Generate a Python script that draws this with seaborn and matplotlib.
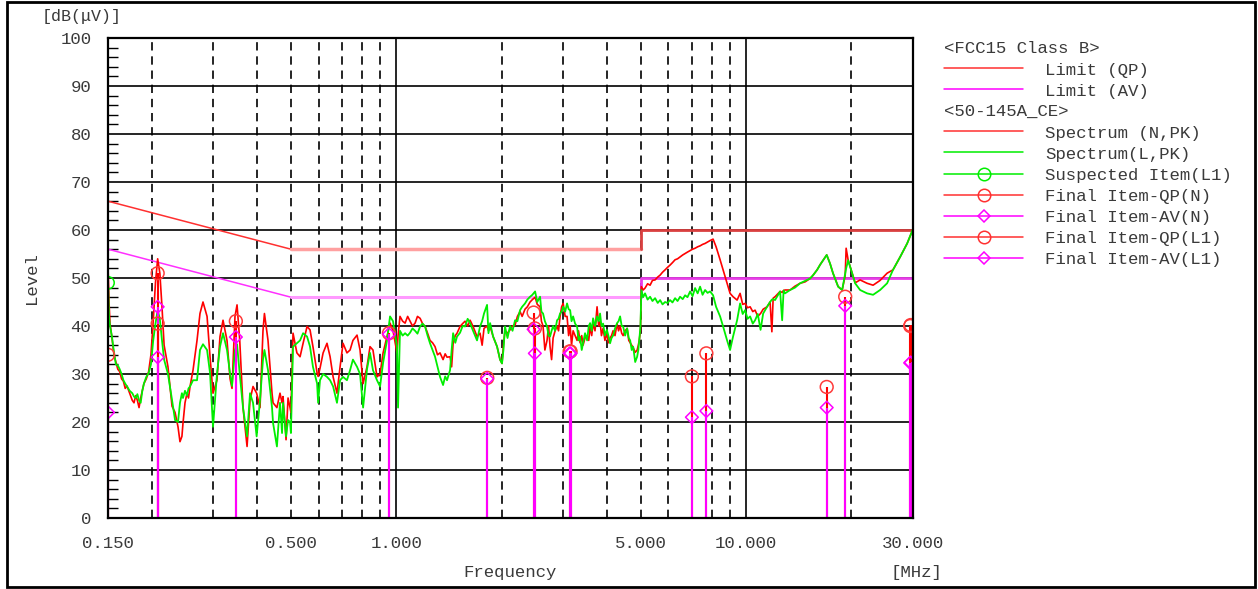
import matplotlib
matplotlib.use("Agg")
import matplotlib.pyplot as plt
from matplotlib.lines import Line2D
from matplotlib.patches import Rectangle
from matplotlib.ticker import FixedLocator, MultipleLocator, NullLocator
import pandas as pd
import seaborn as sns

# ---------------- data ----------------
limit_freq = [0.15, 0.5, 5.0, 5.0, 30.0]
limit_qp = [66, 56, 56, 60, 60]
limit_av = [56, 46, 46, 50, 50]

# spectrum sweep (MHz) with N (red) and L (green) peak levels, dB(uV)
spec_freq = [
    0.150, 0.151, 0.152, 0.154, 0.156, 0.158, 0.160, 0.162, 0.164, 0.166,
    0.168, 0.170, 0.173, 0.176, 0.178, 0.180, 0.182, 0.184, 0.186, 0.188,
    0.190, 0.193, 0.196, 0.199, 0.202, 0.205, 0.208, 0.211, 0.214, 0.217,
    0.2226, 0.2286, 0.2332, 0.2378, 0.2409, 0.244, 0.2457, 0.249, 0.2523, 0.2548,
    0.2574, 0.2625, 0.2695, 0.2748, 0.2803, 0.2879, 0.2936, 0.2994, 0.3073, 0.3135,
    0.3198, 0.3283, 0.335, 0.3393, 0.346, 0.3507, 0.357, 0.3648, 0.3746, 0.382,
    0.3896, 0.399, 0.408, 0.416, 0.420, 0.430, 0.4415, 0.4445, 0.456, 0.4653,
    0.4716, 0.4747, 0.4842, 0.4906, 0.4971, 0.500,
    0.507, 0.520, 0.531, 0.5417, 0.556, 0.567, 0.578, 0.594, 0.598, 0.6055,
    0.618, 0.634, 0.647, 0.660, 0.677, 0.691, 0.7045, 0.723, 0.738, 0.752,
    0.7725, 0.788, 0.804, 0.825, 0.8415, 0.858, 0.881, 0.899, 0.917, 0.941,
    0.960, 0.979, 1.005, 1.012, 1.025, 1.043,
    1.060, 1.078, 1.095, 1.113, 1.132, 1.150, 1.170, 1.189, 1.209, 1.229,
    1.249, 1.270, 1.291, 1.312, 1.334, 1.361, 1.380, 1.397, 1.425, 1.440,
    1.454, 1.475, 1.492, 1.522, 1.548, 1.573, 1.600, 1.626, 1.658, 1.702,
    1.736, 1.760, 1.782, 1.818, 1.835, 1.855, 1.892, 1.942, 1.980, 2.006,
    2.025, 2.046, 2.080, 2.115, 2.150, 2.186, 2.220, 2.259, 2.290, 2.334,
    2.370, 2.413, 2.450, 2.494, 2.530, 2.577, 2.600, 2.628, 2.660, 2.698,
    2.725, 2.752, 2.780, 2.808, 2.845, 2.882, 2.910, 2.940, 2.970, 3.000,
    3.040, 3.078, 3.110, 3.141, 3.170, 3.203, 3.245, 3.288, 3.320, 3.354,
    3.390, 3.420, 3.465, 3.512, 3.550, 3.582, 3.620, 3.653, 3.700, 3.750,
    3.790, 3.825, 3.860, 3.902, 3.950, 4.000, 4.040, 4.085, 4.125, 4.167,
    4.220, 4.278, 4.320, 4.364, 4.410, 4.452, 4.510, 4.571, 4.620, 4.663,
    4.710, 4.756, 4.820, 4.882, 4.920, 4.950, 4.990,
    5.020, 5.080, 5.143, 5.230, 5.316, 5.400, 5.494, 5.590, 5.679, 5.770,
    5.868, 5.960, 6.065, 6.160, 6.267, 6.370, 6.477, 6.590, 6.694, 6.800,
    6.918, 7.030, 7.149, 7.270, 7.389, 7.510, 7.635, 7.760, 7.890, 8.048,
    8.208, 8.428, 8.596, 8.825, 9.000, 9.178, 9.426, 9.614, 9.780, 9.935,
    10.10, 10.27, 10.45, 10.61, 10.80, 11.00, 11.19, 11.48, 11.71, 11.85,
    11.95, 12.10, 12.51, 12.68, 12.80, 12.92, 13.36, 13.80, 14.27, 14.75,
    15.24, 15.55, 15.96, 16.29, 16.60, 17.00, 17.38, 17.72, 18.33, 18.82,
    19.20, 19.32, 19.58, 20.10, 20.50, 21.18, 22.17, 23.07, 24.16, 25.30,
    26.30, 27.57, 28.87, 30.00,
]
spec_n = [
    52.5, 45.0, 40.5, 37.5, 34.0, 32.5, 31.0, 30.5, 29.0, 28.5,
    27.0, 27.5, 26.0, 24.5, 24.0, 25.5, 24.5, 23.0, 25.0, 26.5,
    28.0, 29.0, 30.5, 34.0, 41.0, 49.0, 54.0, 51.0, 44.0, 36.0,
    31.5, 23.3, 22.0, 19.0, 15.9, 17.0, 19.7, 24.0, 26.0, 25.0,
    27.4, 30.8, 37.0, 42.6, 45.0, 42.0, 33.6, 26.0, 28.7, 37.8,
    41.2, 37.0, 29.0, 27.0, 42.0, 44.4, 37.0, 23.0, 14.9, 24.6,
    27.4, 26.0, 23.0, 39.0, 42.6, 37.0, 26.0, 24.0, 23.0, 26.0,
    24.0, 25.3, 16.3, 25.0, 23.0, 22.0,
    38.5, 34.4, 33.6, 36.4, 39.9, 39.2, 35.7, 30.2, 29.5, 31.2,
    34.4, 36.4, 33.6, 29.4, 26.0, 31.5, 36.4, 34.4, 35.0, 37.0,
    38.1, 35.0, 28.0, 31.5, 35.7, 35.0, 29.4, 30.0, 34.4, 37.8,
    40.6, 39.0, 34.4, 38.0, 42.0, 41.0,
    40.6, 42.0, 41.0, 40.0, 40.6, 42.0, 41.6, 40.5, 39.9, 38.5,
    37.0, 36.5, 35.7, 34.0, 34.4, 33.0, 34.2, 33.5, 33.6, 31.5,
    36.4, 38.0, 38.5, 39.9, 40.5, 41.0, 40.0, 41.2, 39.9, 37.8,
    38.5, 36.0, 39.5, 40.0, 39.0, 39.9, 37.8, 35.7, 33.0, 32.2,
    36.0, 39.0, 38.5, 39.2, 40.0, 40.2, 42.0, 43.0, 42.0, 43.5,
    44.0, 45.0, 45.5, 46.0, 44.5, 44.0, 41.0, 40.0, 35.0, 37.0,
    40.0, 35.7, 33.0, 37.5, 39.0, 40.0, 39.0, 42.0, 44.0, 44.7,
    42.0, 42.0, 38.0, 40.0, 36.0, 39.0, 38.0, 37.0, 39.0, 36.5,
    38.0, 36.0, 37.5, 38.0, 37.0, 39.9, 38.0, 40.5, 39.0, 44.0,
    40.0, 41.0, 38.0, 39.5, 37.0, 38.5, 36.5, 37.5, 38.0, 39.0,
    38.0, 40.5, 39.0, 40.0, 38.5, 38.0, 39.0, 39.5, 37.0, 36.5,
    36.0, 35.5, 34.5, 35.0, 36.0, 37.0, 39.0,
    48.2, 47.5, 47.9, 48.8, 48.5, 49.5, 49.6, 50.2, 50.6, 51.2,
    51.7, 52.2, 52.7, 53.2, 53.8, 54.0, 54.4, 54.8, 55.1, 55.4,
    55.7, 56.0, 56.2, 56.5, 56.7, 57.0, 57.2, 57.5, 57.8, 58.1,
    56.5, 53.8, 51.7, 48.9, 46.8, 46.1, 45.4, 46.8, 44.5, 44.7,
    43.8, 44.0, 43.0, 43.3, 42.0, 42.6, 43.5, 44.0, 45.0, 38.8,
    45.8, 46.1, 47.2, 47.0, 47.4, 47.5, 47.5, 48.3, 48.9, 49.2,
    49.9, 50.6, 51.7, 52.8, 53.7, 54.8, 53.0, 51.0, 48.2, 47.5,
    50.5, 56.2, 53.7, 51.0, 49.0, 49.6, 48.9, 48.5, 49.5, 51.0,
    51.7, 54.4, 57.2, 60.2,
]
spec_l = [
    49.5, 42.0, 40.0, 37.7, 34.5, 32.0, 31.8, 31.0, 30.0, 28.7,
    28.0, 27.4, 26.5, 26.0, 25.3, 25.0, 25.8, 24.5, 24.0, 26.5,
    28.0, 29.4, 30.2, 32.0, 37.0, 40.5, 43.3, 41.5, 37.0, 33.0,
    30.0, 24.6, 20.4, 20.0, 24.0, 26.0, 25.0, 26.5, 25.5, 27.0,
    27.4, 28.7, 28.7, 35.0, 36.2, 35.0, 30.2, 19.0, 30.0, 35.7,
    38.5, 35.0, 30.0, 27.5, 35.0, 36.2, 30.0, 23.0, 17.0, 26.0,
    24.0, 17.0, 24.6, 33.0, 35.0, 30.8, 23.0, 19.8, 14.9, 24.0,
    17.7, 24.0, 17.0, 20.4, 20.0, 17.7,
    35.7, 36.4, 37.0, 38.5, 37.8, 35.7, 31.5, 28.0, 24.0, 28.7,
    30.0, 29.4, 28.7, 27.4, 24.0, 28.7, 29.4, 28.7, 30.8, 33.0,
    31.5, 30.0, 23.0, 31.0, 34.4, 30.8, 28.7, 27.4, 32.3, 37.0,
    42.0, 41.0, 35.7, 23.0, 39.0, 38.0,
    38.5, 38.0, 38.6, 39.5, 39.0, 38.4, 39.9, 40.5, 39.9, 38.0,
    36.4, 35.0, 33.6, 31.5, 29.4, 27.7, 29.5, 28.7, 30.8, 35.0,
    38.5, 36.5, 37.8, 38.6, 40.0, 39.9, 41.5, 40.6, 39.0, 37.0,
    39.9, 41.0, 42.6, 44.4, 38.5, 40.6, 37.8, 35.7, 33.0, 32.2,
    35.0, 39.9, 37.5, 40.0, 39.0, 41.2, 41.0, 43.3, 44.0, 44.7,
    45.5, 46.1, 46.5, 47.2, 45.0, 46.1, 43.0, 42.6, 41.0, 39.9,
    38.0, 37.8, 39.0, 40.0, 39.0, 41.2, 41.5, 42.6, 43.0, 44.0,
    43.0, 44.7, 43.5, 43.3, 41.0, 42.0, 40.5, 39.9, 37.0, 37.8,
    35.0, 36.4, 38.5, 37.0, 40.0, 40.6, 39.0, 41.6, 40.0, 42.0,
    41.0, 42.6, 40.0, 40.5, 38.0, 39.2, 38.0, 36.4, 37.5, 38.0,
    39.5, 40.6, 41.0, 42.0, 40.0, 39.9, 38.0, 39.5, 37.5, 37.0,
    35.0, 35.7, 32.5, 33.6, 35.0, 37.0, 39.9,
    47.5, 46.0, 46.8, 45.5, 46.1, 45.2, 45.8, 44.8, 45.4, 44.5,
    45.0, 44.8, 45.4, 44.9, 45.8, 45.2, 46.1, 45.6, 46.4, 46.0,
    47.2, 46.2, 47.9, 46.8, 48.2, 46.5, 47.5, 46.9, 47.2, 46.4,
    44.0, 42.0, 39.9, 37.0, 35.0, 37.8, 41.2, 44.7, 42.5, 43.3,
    41.5, 42.0, 40.5, 41.2, 42.5, 39.2, 42.6, 44.0, 45.0, 45.5,
    45.6, 45.4, 47.2, 41.2, 47.4, 46.8, 47.5, 48.0, 48.9, 49.4,
    49.9, 50.6, 51.7, 52.8, 53.7, 54.8, 53.0, 51.0, 48.2, 47.5,
    51.0, 52.0, 53.7, 51.0, 48.9, 47.5, 46.8, 46.5, 47.5, 48.9,
    51.7, 54.4, 57.2, 60.2,
]

# final measurement items
qp_n_freq = [0.150, 0.208, 2.47, 3.13, 7.00, 7.70, 17.0, 29.55]
qp_n_level = [34.0, 51.0, 42.8, 34.7, 29.5, 34.3, 27.3, 40.2]
av_n_level = [22.0, 44.0, 39.3, 34.3, 21.0, 22.3, 23.0, 32.4]

qp_l1_freq = [0.208, 0.348, 0.953, 1.82, 2.49, 3.15, 19.2, 29.45]
qp_l1_level = [40.5, 41.0, 38.5, 29.2, 39.5, 34.7, 46.1, 40.0]
av_l1_level = [33.5, 37.7, 38.3, 29.0, 34.3, 34.3, 44.2, 32.3]

suspect_freq = [0.150]
suspect_level = [49.0]

freq_ticks = [0.15, 0.5, 1.0, 5.0, 10.0, 30.0]
freq_tick_labels = ["0.150", "0.500", "1.000", "5.000", "10.000", "30.000"]

legend_rows = [
    ("<FCC15 Class B>", None),
    ("Limit (QP)", "qp"),
    ("Limit (AV)", "av"),
    ("<50-145A_CE>", None),
    ("Spectrum (N,PK)", "n"),
    ("Spectrum(L,PK)", "l"),
    ("Suspected Item(L1)", "sus"),
    ("Final Item-QP(N)", "qpn"),
    ("Final Item-AV(N)", "avn"),
    ("Final Item-QP(L1)", "qpl"),
    ("Final Item-AV(L1)", "avl"),
]

# ---------------- style ----------------
RED = "#ff0000"
GREEN = "#00ee00"
MAG = "#ff00ff"
CIRC = "#ff3a3a"
TXT = "#3a3a3a"

sns.set_style("white")
plt.rcParams["font.family"] = ["Liberation Mono", "DejaVu Sans"]

W, H = 1258, 589
fig = plt.figure(figsize=(W / 100, H / 100), dpi=100)
ax = fig.add_axes([108 / W, 1 - 518 / H, (913 - 108) / W, (518 - 38) / H])

def fx(px):
    return px / W

def fy(py):
    return 1 - py / H

# grid
for f in [0.2, 0.3, 0.4, 0.5, 0.6, 0.7, 0.8, 0.9, 2, 3, 4, 5, 6, 7, 8, 9, 20]:
    ax.axvline(f, color="black", lw=1.2, dashes=(5, 3.5), zorder=1)
for f in [1, 10]:
    ax.axvline(f, color="black", lw=1.2, zorder=1)
for v in range(10, 100, 10):
    ax.axhline(v, color="black", lw=1.2, zorder=1)

# limits
lim = pd.DataFrame({"freq": limit_freq, "qp": limit_qp, "av": limit_av})
sns.lineplot(data=lim.iloc[0:2], x="freq", y="qp", color="#ff3030", lw=1.1, ax=ax, zorder=2)
sns.lineplot(data=lim.iloc[1:3], x="freq", y="qp", color="#ffa0a0", lw=2.5, ax=ax, zorder=2)
sns.lineplot(data=lim.iloc[2:5], x="freq", y="qp", color="#d94040", lw=2.0, ax=ax,
             zorder=2, estimator=None, sort=False)
sns.lineplot(data=lim.iloc[0:2], x="freq", y="av", color="#ff30ff", lw=1.1, ax=ax, zorder=2)
sns.lineplot(data=lim.iloc[1:3], x="freq", y="av", color="#ff99ff", lw=2.2, ax=ax, zorder=2)
sns.lineplot(data=lim.iloc[2:5], x="freq", y="av", color="#e83ce8", lw=2.0, ax=ax,
             zorder=2, estimator=None, sort=False)

# spectra
spec = pd.DataFrame({"freq": spec_freq, "n": spec_n, "l": spec_l})
sns.lineplot(data=spec, x="freq", y="n", color=RED, lw=1.2, ax=ax,
             estimator=None, sort=False, zorder=3)
sns.lineplot(data=spec, x="freq", y="l", color=GREEN, lw=1.3, ax=ax,
             estimator=None, sort=False, zorder=4)

# stems
ax.vlines(qp_n_freq, 0, qp_n_level, color=RED, lw=1.5, zorder=5)
ax.vlines(qp_n_freq, 0, av_n_level, color=MAG, lw=1.5, zorder=5)
ax.vlines(qp_l1_freq, 0, qp_l1_level, color=RED, lw=1.5, zorder=5)
ax.vlines(qp_l1_freq, 0, av_l1_level, color=MAG, lw=1.5, zorder=5)

# markers
sns.scatterplot(x=suspect_freq, y=suspect_level, marker="o", s=80, facecolor="none",
                edgecolor=GREEN, linewidth=1.1, ax=ax, zorder=6)
for fr, qp, av in [(qp_n_freq, qp_n_level, av_n_level), (qp_l1_freq, qp_l1_level, av_l1_level)]:
    sns.scatterplot(x=fr, y=qp, marker="o", s=85, facecolor="none",
                    edgecolor=CIRC, linewidth=1.1, ax=ax, zorder=6)
    sns.scatterplot(x=fr, y=av, marker="D", s=42, facecolor="none",
                    edgecolor=MAG, linewidth=1.1, ax=ax, zorder=7)

# axes
ax.set_xscale("log")
ax.set_xlim(0.15, 30)
ax.set_ylim(0, 100)
ax.xaxis.set_major_locator(FixedLocator(freq_ticks))
ax.set_xticklabels(freq_tick_labels)
ax.xaxis.set_minor_locator(NullLocator())
ax.yaxis.set_major_locator(MultipleLocator(10))
ax.yaxis.set_minor_locator(MultipleLocator(2))
ax.tick_params(axis="x", which="major", length=0, pad=13, labelsize=12.5, labelcolor=TXT)
ax.tick_params(axis="y", which="major", length=0, pad=12, labelsize=12.5, labelcolor=TXT)
ax.tick_params(axis="y", which="minor", direction="in", length=7, width=1, color="black", left=True)
ax.set_xlabel("")
ax.set_ylabel("")
for s in ax.spines.values():
    s.set_color("black")
    s.set_linewidth(1.6)
    s.set_zorder(8)

# axis texts
fig.text(fx(42), fy(17), "[dB(μV)]", fontsize=12, color=TXT, va="center", ha="left")
fig.text(fx(31), fy(278), "Level", fontsize=12.5, color=TXT, va="center", ha="center", rotation=90)
fig.text(fx(510), fy(572), "Frequency", fontsize=12.5, color=TXT, va="center", ha="center")
fig.text(fx(891), fy(572), "[MHz]", fontsize=12.5, color=TXT, va="center", ha="left")

# legend drawn at the right
legend_style = {
    "qp": dict(color="#ff3030"),
    "av": dict(color=MAG),
    "n": dict(color="#ff3030"),
    "l": dict(color=GREEN),
    "sus": dict(color=GREEN, marker="o", ms=9, mfc="none"),
    "qpn": dict(color="#ff3030", marker="o", ms=9, mfc="none"),
    "avn": dict(color=MAG, marker="D", ms=6.5, mfc="none"),
    "qpl": dict(color="#ff3030", marker="o", ms=9, mfc="none"),
    "avl": dict(color=MAG, marker="D", ms=6.5, mfc="none"),
}
row0, step = 48.5, 21.1
for i, (label, key) in enumerate(legend_rows):
    yy = row0 + i * step
    if key is None:
        fig.text(fx(944), fy(yy), label, fontsize=12.5, color=TXT, va="center", ha="left")
        continue
    st = legend_style[key]
    fig.add_artist(Line2D([fx(944), fx(983.5), fx(1023)], [fy(yy - 1.5)] * 3,
                          transform=fig.transFigure, lw=1.1, markevery=[1],
                          markeredgewidth=1.1, **st))
    fig.text(fx(1045), fy(yy + 0.5), label, fontsize=12.5, color=TXT, va="center", ha="left")

# outer frame
fig.add_artist(Rectangle((fx(7), fy(587)), (1255 - 7) / W, (587 - 2) / H,
                         transform=fig.transFigure, fill=False, ec="black", lw=2))

fig.savefig("out.png", dpi=100)
